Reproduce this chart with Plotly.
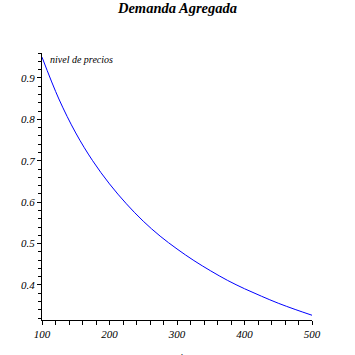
import plotly.graph_objects as go

# Values
output_y = [100, 125, 150, 175, 200, 225, 250, 275, 300, 325, 350, 375, 400, 425, 450, 475, 500]
price_level = [0.950, 0.849, 0.767, 0.700, 0.644, 0.596, 0.554, 0.518, 0.487,
               0.459, 0.434, 0.411, 0.391, 0.373, 0.356, 0.341, 0.327]

x_tick_vals = [100, 200, 300, 400, 500]
x_tick_text = ["100", "200", "300", "400", "500"]
y_tick_vals = [0.4, 0.5, 0.6, 0.7, 0.8, 0.9]
y_tick_text = ["0.4", "0.5", "0.6", "0.7", "0.8", "0.9"]

FONT = "Liberation Serif"

fig = go.Figure()
fig.add_trace(go.Scatter(x=output_y, y=price_level, mode="lines",
                         line=dict(color="#0000ff", width=1, shape="spline"),
                         showlegend=False, hoverinfo="skip"))

fig.update_layout(
    width=355, height=355,
    margin=dict(l=42, r=43, t=53, b=35, autoexpand=False),
    paper_bgcolor="white", plot_bgcolor="white",
    title=dict(text="Demanda Agregada", x=0.5, xanchor="center", y=1, yanchor="top", pad=dict(t=3),
               automargin=False,
               font=dict(family=FONT, size=14.5, color="black", weight="bold", style="italic")),
    showlegend=False,
)
fig.update_xaxes(
    range=[100, 500], showgrid=False, zeroline=False, automargin=False,
    showline=True, linecolor="black", linewidth=1,
    tickmode="array", tickvals=x_tick_vals, ticktext=x_tick_text,
    ticks="outside", ticklen=4, tickwidth=1, tickcolor="black",
    minor=dict(dtick=20, tick0=100, ticks="outside", ticklen=4, tickwidth=1, tickcolor="black", showgrid=False),
    tickfont=dict(family=FONT, size=11, color="black", style="italic"),
)
fig.update_yaxes(
    range=[0.3155, 0.960], showgrid=False, zeroline=False, automargin=False,
    showline=True, linecolor="black", linewidth=1,
    tickmode="array", tickvals=y_tick_vals, ticktext=y_tick_text,
    ticks="outside", ticklen=4, tickwidth=1, tickcolor="black",
    minor=dict(dtick=0.02, tick0=0.3, ticks="outside", ticklen=3, tickwidth=1, tickcolor="black", showgrid=False),
    tickfont=dict(family=FONT, size=11, color="black", style="italic"),
)
fig.add_annotation(text="nivel de precios", xref="paper", yref="paper", x=0, y=1,
                   xanchor="left", yanchor="middle", xshift=6, yshift=-6, showarrow=False,
                   font=dict(family=FONT, size=10, color="black", style="italic"))
fig.add_annotation(text="y<sup>d</sup>", xref="paper", yref="paper", x=0.5, y=0,
                   xanchor="center", yanchor="top", yshift=-31, showarrow=False,
                   font=dict(family=FONT, size=12, color="black", style="italic"))

fig.write_html("out.html", config={"displayModeBar": False},
               post_script="document.body.style.margin='0';")
